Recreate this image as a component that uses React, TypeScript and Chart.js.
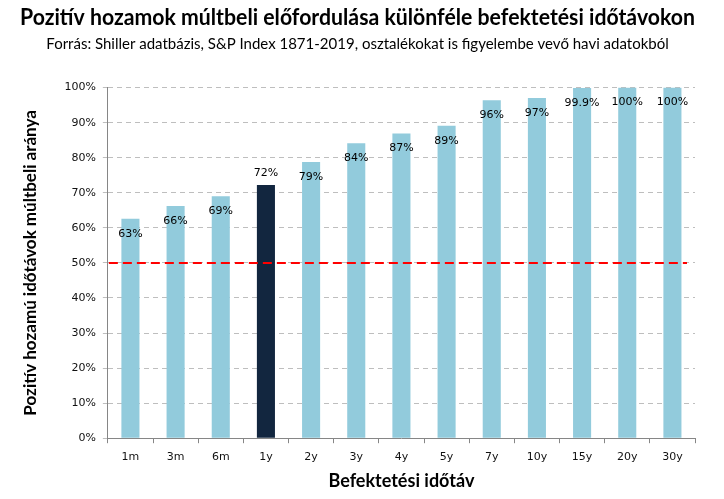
import React, { useEffect, useRef } from "react";
import { Chart, registerables } from "chart.js";

Chart.register(...registerables);

const categories = ["1m", "3m", "6m", "1y", "2y", "3y", "4y", "5y", "7y", "10y", "15y", "20y", "30y"];
const values = [62.6, 66.2, 69.0, 72.2, 78.8, 84.1, 86.9, 89.1, 96.4, 97.0, 99.9, 100, 100];
const valueLabels = ["63%", "66%", "69%", "72%", "79%", "84%", "87%", "89%", "96%", "97%", "99.9%", "100%", "100%"];
const highlightIndex = 3;
const thresholdValue = 50;

const titleText = "Pozitív hozamok múltbeli előfordulása különféle befektetési időtávokon";
const subtitleText = "Forrás: Shiller adatbázis, S&P Index 1871-2019, osztalékokat is figyelembe vevő havi adatokból";
const xTitle = "Befektetési időtáv";
const yTitle = "Pozitív hozamú időtávok múltbeli aránya";

const LIGHT = "#92CBDC";
const DARK = "#12263F";

const labelPlugin = {
  id: "valueLabels",
  afterDatasetsDraw(chart: any) {
    const ctx = chart.ctx;
    const meta = chart.getDatasetMeta(0);
    ctx.save();
    ctx.font = "11px 'DejaVu Sans', Verdana, sans-serif";
    ctx.fillStyle = "#000";
    ctx.textAlign = "center";
    ctx.textBaseline = "middle";
    meta.data.forEach((bar: any, i: number) => {
      const y = i === highlightIndex ? bar.y - 12 : bar.y + 15;
      ctx.fillText(valueLabels[i], bar.x, y);
    });
    ctx.restore();
  },
};

const thresholdPlugin = {
  id: "threshold",
  afterDatasetsDraw(chart: any) {
    const ctx = chart.ctx;
    const yScale = chart.scales.y;
    const area = chart.chartArea;
    const y = yScale.getPixelForValue(thresholdValue);
    ctx.save();
    ctx.strokeStyle = "#FF0000";
    ctx.lineWidth = 2;
    ctx.setLineDash([9, 5]);
    ctx.beginPath();
    ctx.moveTo(area.left + 1, y);
    ctx.lineTo(area.right - 8, y);
    ctx.stroke();
    ctx.restore();
  },
};

export default function App() {
  const ref = useRef<HTMLCanvasElement>(null);
  useEffect(() => {
    document.body.style.margin = "0";
    const chart = new Chart(ref.current as HTMLCanvasElement, {
      type: "bar",
      data: {
        labels: categories,
        datasets: [
          {
            data: values,
            backgroundColor: values.map((_, i) => (i === highlightIndex ? DARK : LIGHT)),
            categoryPercentage: 1,
            barPercentage: 0.4,
          },
        ],
      },
      options: {
        animation: false,
        responsive: false,
        layout: { padding: { left: 20, right: 29, top: 0, bottom: 7 } },
        plugins: {
          legend: { display: false },
          tooltip: { enabled: false },
          title: {
            display: true,
            text: titleText,
            color: "#000",
            font: { family: "Lato, sans-serif", size: 23, weight: "bold" },
            padding: { top: 4, bottom: 4 },
          },
          subtitle: {
            display: true,
            text: subtitleText,
            color: "#000",
            font: { family: "Lato, sans-serif", size: 15 },
            padding: { top: 0, bottom: 34 },
          },
        },
        scales: {
          x: {
            grid: {
              offset: true,
              drawOnChartArea: false,
              drawTicks: true,
              tickLength: 5,
              color: "#868686",
            },
            border: { color: "#868686", width: 1 },
            ticks: {
              color: "#111",
              font: { family: "'DejaVu Sans', Verdana, sans-serif", size: 11 },
              padding: 7,
            },
            title: {
              display: true,
              text: xTitle,
              color: "#000",
              font: { family: "Lato, sans-serif", size: 18, weight: "bold" },
              padding: { top: 0, bottom: 0 },
            },
          },
          y: {
            min: 0,
            max: 100,
            ticks: {
              stepSize: 10,
              callback: (v: any) => v + "%",
              color: "#111",
              font: { family: "'DejaVu Sans', Verdana, sans-serif", size: 11 },
              padding: 7,
            },
            grid: {
              color: "#BEBEBE",
              tickLength: 5,
              tickBorderDash: [5, 4],
            },
            border: { color: "#868686", width: 1, dash: [5, 4] },
            title: {
              display: true,
              text: yTitle,
              color: "#000",
              font: { family: "Lato, sans-serif", size: 17, weight: "bold" },
              padding: { top: 0, bottom: 17 },
            },
          },
        },
      },
      plugins: [labelPlugin, thresholdPlugin],
    });
    return () => chart.destroy();
  }, []);
  return (
    <div style={{ width: 724, height: 499 }}>
      <canvas ref={ref} width={724} height={499} style={{ display: "block" }} />
    </div>
  );
}
